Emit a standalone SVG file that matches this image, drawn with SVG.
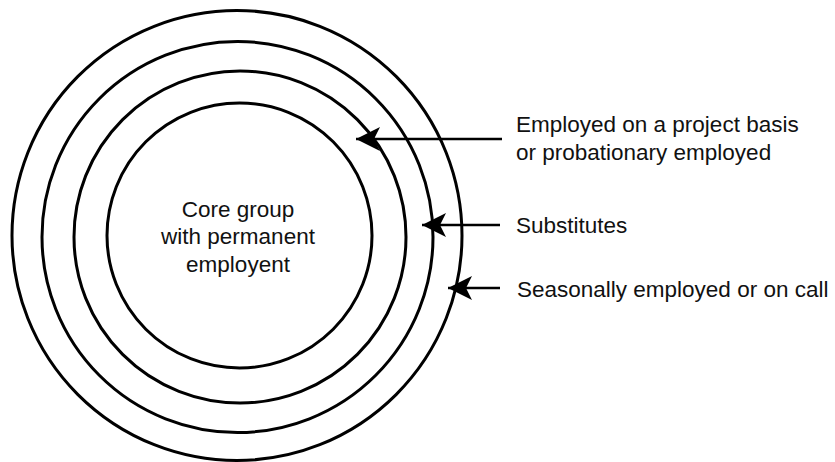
<svg xmlns="http://www.w3.org/2000/svg" width="835" height="462" viewBox="0 0 835 462">
<style>
.ring{fill:none;stroke:#000;stroke-width:3}
.conn{fill:none;stroke:#000;stroke-width:2.5}
text{font-family:"Liberation Sans",Arial,Helvetica,sans-serif;font-size:22.5px;fill:#111}
</style>
<defs>
<marker id="ah" markerUnits="userSpaceOnUse" markerWidth="30" markerHeight="30" viewBox="-28 -14 30 28" refX="0" refY="0" orient="auto">
<path d="M0,0 L-24,-12 L-18,0 L-24,12 Z" fill="#000"/>
</marker>
</defs>
<rect width="835" height="462" fill="#fff"/>
<g id="ring-seasonal"><circle class="ring" cx="237" cy="235.5" r="225"/></g>
<g id="ring-substitutes"><circle class="ring" cx="237.5" cy="237" r="195.5"/></g>
<g id="ring-project"><circle class="ring" cx="240" cy="237" r="166"/></g>
<g id="core"><circle class="ring" cx="239.5" cy="235.5" r="132.5"/>
<text text-anchor="middle"><tspan x="238" y="217">Core group</tspan><tspan x="238" y="244">with permanent</tspan><tspan x="238" y="271.5">employent</tspan></text>
</g>
<g id="label-project"><text><tspan x="516" y="132">Employed on a project basis</tspan><tspan x="516" y="160">or probationary employed</tspan></text></g>
<g id="label-substitutes"><text x="516" y="233">Substitutes</text></g>
<g id="label-seasonal"><text x="517" y="296.5">Seasonally employed or on call</text></g>
<g id="connectors">
<line class="conn" x1="502" y1="139" x2="356" y2="139" marker-end="url(#ah)"/>
<line class="conn" x1="500" y1="225" x2="422" y2="225" marker-end="url(#ah)"/>
<line class="conn" x1="500" y1="288" x2="448" y2="288" marker-end="url(#ah)"/>
</g>
</svg>
